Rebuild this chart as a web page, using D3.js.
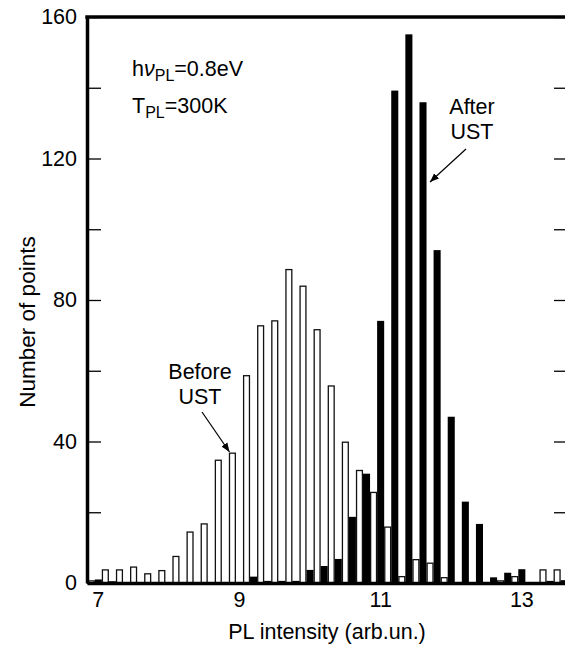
<!DOCTYPE html>
<html>
<head>
<meta charset="utf-8">
<script src="https://cdn.jsdelivr.net/npm/d3@7"></script>
<style>
  body { margin: 0; background: #fff; }
  svg text { font-family: "Liberation Sans", Arial, sans-serif; fill: #000; }
</style>
</head>
<body>
<div id="chart"></div>
<script>
// histogram bins (left edge, width 0.2 arb.un.)
const binStart = [6.8, 7.0, 7.2, 7.4, 7.6, 7.8, 8.0, 8.2, 8.4, 8.6, 8.8, 9.0, 9.2, 9.4, 9.6, 9.8, 10.0,
  10.2, 10.4, 10.6, 10.8, 11.0, 11.2, 11.4, 11.6, 11.8, 12.0, 12.2, 12.4, 12.6, 12.8, 13.0, 13.2, 13.4];
// before UST (open bars)
const before = [0.6, 3.7, 3.7, 4.5, 2.6, 3.5, 7.5, 14.4, 16.7, 34.7, 36.7, 58.6, 72.7, 74.1, 88.6, 83.9, 71.6,
  55.7, 39.8, 31.8, 25.6, 15.8, 1.8, 6.6, 5.6, 1.5, 0, 0, 0, 0.6, 1.8, 0, 3.7, 3.7];
// after UST (filled bars)
const after = [1.0, 0.5, 0, 0, 0, 0, 0, 0, 0, 0, 0, 1.8, 0.6, 0.6, 0.6, 3.7, 4.8,
  6.8, 18.7, 30.9, 74.1, 139.2, 155.1, 135.9, 94.1, 47.0, 23.0, 16.7, 1.6, 2.9, 3.9, 0, 0.6, 0.8];
const binWidth = 0.2;
const xTicks = [7, 9, 11, 13];
const yTicks = [0, 20, 40, 60, 80, 100, 120, 140, 160];
const yLabels = [0, 40, 80, 120, 160];

const width = 565, height = 648;
const pLeft = 87, pRight = 567, pTop = 17, pBottom = 583;
const fs = "21.5px";

const svg = d3.select("#chart").append("svg")
    .attr("width", width)
    .attr("height", height);

const x = d3.scaleLinear().domain([6.79, 13.59]).range([pLeft, pRight]);
const y = d3.scaleLinear().domain([0, 160]).range([pBottom, pTop]);

const rows = binStart.map((b, i) => ({ b: b, before: before[i], after: after[i] }));

// open bars (left half of each bin)
svg.append("g").selectAll("rect")
    .data(rows.filter(d => d.before > 0))
    .enter().append("rect")
    .attr("x", d => x(d.b) + 0.6)
    .attr("y", d => y(d.before))
    .attr("width", d => x(d.b + binWidth / 2) - x(d.b) - 1.2)
    .attr("height", d => pBottom - y(d.before))
    .attr("fill", "#fff")
    .attr("stroke", "#111")
    .attr("stroke-width", 1.3);

// filled bars (right half)
svg.append("g").selectAll("rect")
    .data(rows.filter(d => d.after > 0))
    .enter().append("rect")
    .attr("x", d => x(d.b + binWidth / 2))
    .attr("y", d => y(d.after))
    .attr("width", d => x(d.b + binWidth) - x(d.b + binWidth / 2))
    .attr("height", d => pBottom - y(d.after))
    .attr("fill", "#000");

// Y axes
const yAxis = svg.append("g")
    .attr("transform", "translate(" + pLeft + ",0)")
    .call(d3.axisLeft(y).tickValues(yTicks).tickSizeInner(-14).tickSizeOuter(0).tickPadding(10)
        .tickFormat(d => yLabels.includes(d) ? d : ""));
yAxis.selectAll("text").style("font-size", fs);

svg.append("g")
    .attr("transform", "translate(" + pRight + ",0)")
    .call(d3.axisRight(y).tickValues(yTicks).tickSizeInner(-13).tickSizeOuter(0).tickFormat(""));

svg.selectAll(".tick line").attr("stroke", "#000").attr("stroke-width", 1.3);
svg.selectAll(".domain").attr("stroke", "#000").attr("stroke-width", 3.5);

// X axis
const xAxis = svg.append("g")
    .attr("transform", "translate(0," + pBottom + ")")
    .call(d3.axisBottom(x).tickValues(xTicks).tickFormat(d3.format("d"))
        .tickSizeInner(0).tickSizeOuter(0).tickPadding(9));
xAxis.select(".domain").attr("stroke-width", 3.5);
xAxis.selectAll("text").style("font-size", fs).attr("dx", -4);

// top frame
svg.append("line")
    .attr("x1", pLeft - 1.75).attr("x2", pRight)
    .attr("y1", pTop).attr("y2", pTop)
    .attr("stroke", "#000").attr("stroke-width", 3.5);

// axis titles
svg.append("text")
    .attr("x", (pLeft + pRight) / 2).attr("y", 639)
    .attr("text-anchor", "middle")
    .style("font-size", fs)
    .text("PL intensity (arb.un.)");

svg.append("text")
    .attr("transform", "translate(35,322) rotate(-90)")
    .attr("text-anchor", "middle")
    .style("font-size", "22.5px")
    .text("Number of points");

// conditions
const t1 = svg.append("text").attr("x", 132).attr("y", 76).style("font-size", fs);
t1.append("tspan").text("h");
t1.append("tspan").style("font-style", "italic").text("ν");
t1.append("tspan").attr("dy", 5).style("font-size", "16px").text("PL");
t1.append("tspan").attr("dy", -5).text("=0.8eV");

const t2 = svg.append("text").attr("x", 132).attr("y", 113).style("font-size", fs);
t2.append("tspan").text("T");
t2.append("tspan").attr("dy", 5).style("font-size", "16px").text("PL");
t2.append("tspan").attr("dy", -5).text("=300K");

// labels with arrows
svg.append("defs").append("marker")
    .attr("id", "head")
    .attr("viewBox", "0 0 10 10")
    .attr("refX", 10).attr("refY", 5)
    .attr("markerWidth", 9).attr("markerHeight", 9)
    .attr("markerUnits", "userSpaceOnUse")
    .attr("orient", "auto")
    .append("path").attr("d", "M0,1 L10,5 L0,9 Z").attr("fill", "#000");

function note(cx, y0, lines) {
    lines.forEach((s, i) => {
        svg.append("text")
            .attr("x", cx).attr("y", y0 + i * 25)
            .attr("text-anchor", "middle")
            .style("font-size", fs)
            .text(s);
    });
}
note(200, 379, ["Before", "UST"]);
note(472, 114, ["After", "UST"]);

svg.append("line")
    .attr("x1", 202).attr("y1", 412).attr("x2", 229.5).attr("y2", 452)
    .attr("stroke", "#000").attr("stroke-width", 1.2)
    .attr("marker-end", "url(#head)");
svg.append("line")
    .attr("x1", 466).attr("y1", 149).attr("x2", 430).attr("y2", 182)
    .attr("stroke", "#000").attr("stroke-width", 1.2)
    .attr("marker-end", "url(#head)");
</script>
</body>
</html>
